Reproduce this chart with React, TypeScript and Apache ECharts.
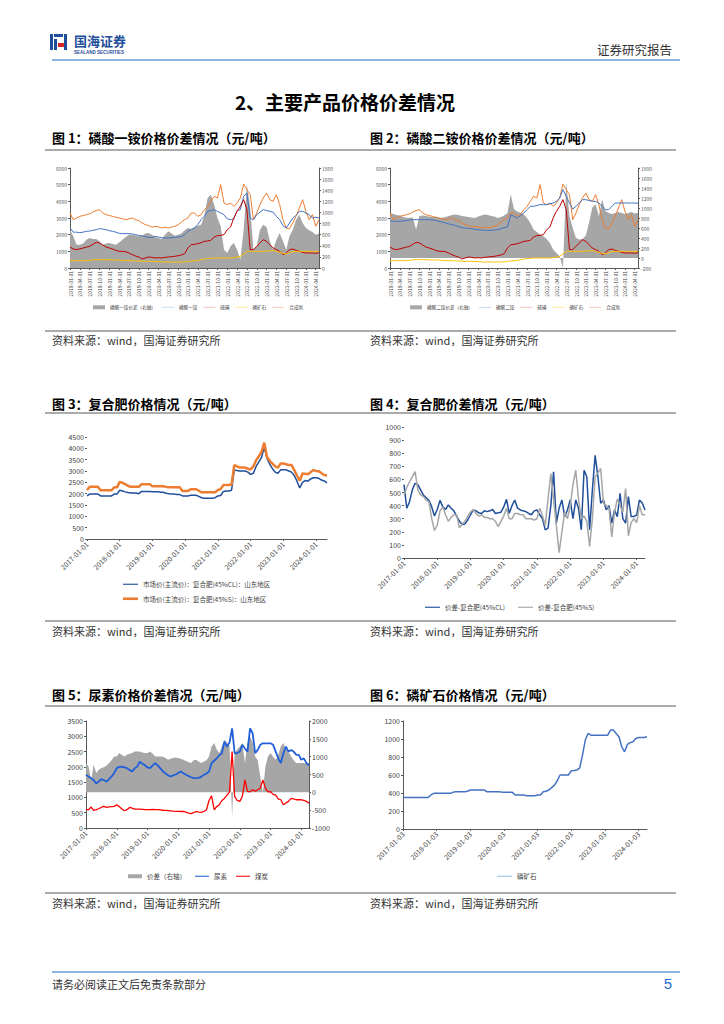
import React, { useEffect, useRef } from "react";
import * as echarts from "echarts";

const FONT = '"Noto Sans CJK SC","Noto Sans",sans-serif';
const AX = "#595959";

function monthList(y0: number, m0: number, n: number): string[] {
  const out: string[] = [];
  let y = y0;
  let m = m0;
  for (let i = 0; i < n; i++) {
    out.push(`${y}-${String(m).padStart(2, "0")}`);
    m++;
    if (m > 12) { m = 1; y++; }
  }
  return out;
}

// ---------- categories ----------
const months2018 = monthList(2018, 1, 77); // charts 1,2
const months2017a = monthList(2017, 1, 89); // chart 3
const months2017b = monthList(2017, 1, 88); // charts 4,5,6

// ---------- chart 1: 磷酸一铵 ----------
const mapSpread = [
  690, 570, 420, 420, 440, 510, 540, 520, 520, 480, 420, 440,
  450, 430, 420, 460, 510, 560, 600, 600, 590, 570, 580, 620,
  630, 600, 560, 540, 520, 600, 660, 620, 580, 600, 620, 680,
  720, 700, 740, 760, 780, 930, 1260, 1320, 1140, 900, 750, 330,
  270, 390, 450, 330, 150, 690, 1500, 1080, 330, 400, 690, 780,
  740, 480, 330, 510, 630, 480, 330, 570, 690, 870, 960, 810,
  720, 680, 650, 600, 620,
];
const mapPrice = [
  2400, 2150, 2150, 2120, 2150, 2200, 2220, 2260, 2300, 2360, 2340, 2300,
  2240, 2200, 2150, 2080, 2060, 2060, 2060, 2050, 2000, 1960, 1920, 1880,
  1840, 1830, 1900, 1860, 1820, 1800, 1800, 1820, 1840, 1860, 1880, 2000,
  2200, 2300, 2400, 2600, 2900, 3100, 3400, 3450, 3500, 3400, 3300, 3200,
  2950, 2900, 2950, 3450, 3500, 4300, 4500, 3000, 2900, 3200, 3350, 3500,
  3450, 3400, 3350, 3100, 2900, 2540, 2400, 2700, 3000, 3150, 3400, 3400,
  3300, 3200, 3000, 3050, 3000,
];
const sulfurPrice = [
  1260, 1140, 1100, 1150, 1200, 1250, 1300, 1420, 1540, 1500, 1380, 1260,
  1200, 1140, 1060, 1000, 1000, 980, 900, 800, 720, 660, 540, 600,
  660, 640, 600, 620, 600, 640, 660, 680, 700, 740, 780, 860,
  1200, 1400, 1420, 1460, 1520, 1600, 1620, 1660, 1860, 1940, 1960, 2000,
  2300, 2460, 3000, 3400, 3700, 4100, 3500, 1100, 1100, 1300, 1500, 1700,
  1600, 1400, 1200, 1100, 1000, 800, 900, 1100, 1140, 1060, 1000, 940,
  900, 900, 900, 880, 920,
];
const rockPrice1 = [
  440, 440, 440, 440, 440, 450, 460, 480, 500, 500, 500, 500,
  490, 480, 480, 470, 460, 450, 440, 440, 430, 420, 410, 400,
  400, 400, 390, 380, 370, 360, 360, 360, 360, 360, 360, 370,
  400, 420, 440, 460, 500, 540, 560, 580, 600, 600, 600, 600,
  600, 600, 620, 650, 700, 840, 1000, 1000, 1000, 1000, 1000, 1000,
  1020, 1040, 1040, 1000, 940, 880, 860, 900, 980, 1000, 1000, 1000,
  1000, 1000, 1000, 1000, 1000,
];
const ammoniaPrice = [
  3300, 2900, 3000, 3100, 3150, 3200, 3250, 3350, 3450, 3500, 3300, 3200,
  3150, 3100, 3050, 3000, 2950, 2900, 2950, 3000, 2900, 2840, 2700, 2600,
  2550, 2450, 2500, 2460, 2400, 2450, 2400, 2460, 2500, 2600, 2750, 2900,
  3000, 3300, 3300, 3100, 3200, 3500, 3700, 4000, 4300, 4200, 5000, 3900,
  3800, 3900, 3700, 3900, 4200, 5040, 4700, 4400, 2900, 3300, 3800, 4200,
  4500, 4100, 4000, 4400, 3800, 2900, 2400, 2350, 2700, 3100, 3600, 4100,
  3400, 2900, 3200, 2500, 2900,
];

// ---------- chart 2: 磷酸二铵 ----------
const dapSpread = [
  907, 880, 860, 850, 820, 806, 806, 806, 570, 840, 850, 840,
  830, 820, 820, 806, 806, 820, 840, 860, 870, 860, 840, 830,
  820, 810, 800, 830, 850, 870, 860, 840, 830, 800, 820, 850,
  900, 1276, 975, 930, 907, 870, 800, 700, 570, 520, 470, 437,
  380, 300, 169, 100, 35, -200, 1511, 840, 600, 400, 370, 380,
  450, 706, 1008, 1075, 840, 1175, 940, 900, 880, 900, 920, 900,
  880, 900, 920, 890, 900,
];
const dapPrice = [
  2840, 2800, 2800, 2800, 2820, 2850, 2880, 2900, 2900, 2900, 2900, 2900,
  2900, 2880, 2850, 2800, 2750, 2700, 2650, 2600, 2550, 2480, 2420, 2400,
  2380, 2360, 2320, 2300, 2280, 2260, 2260, 2260, 2280, 2300, 2350, 2420,
  2460, 3200, 3100, 3000, 3150, 3300, 3500, 3700, 3700, 3750, 3800, 3800,
  3800, 3850, 3900, 4000, 4200, 4700, 4300, 3900, 3540, 3700, 3900, 4100,
  4100, 4050, 4000, 4000, 3900, 3700, 3500, 3500, 3700, 3900, 3900, 3900,
  3900, 3900, 3900, 3900, 3880,
];

// ---------- chart 3: 复合肥价格 ----------
const npkCl = [
  1900, 1980, 1980, 1980, 1980, 1900, 1900, 1900, 1900, 1900, 1980, 1980,
  2150, 2120, 2080, 2050, 2030, 2030, 2030, 2000, 2100, 2100, 2100, 2100,
  2080, 2080, 2080, 2060, 2060, 2020, 2000, 1980, 1980, 1960, 1960, 1900,
  1900, 1900, 1930, 1930, 1930, 1880, 1820, 1800, 1800, 1800, 1800, 1820,
  1900, 1920, 2100, 2120, 2120, 2150, 3050, 3020, 3000, 3000, 3000, 2950,
  2850, 2900, 3200, 3400, 3600, 4050, 3550, 3300, 3100, 2950, 2900, 3050,
  3050, 3050, 3000, 2950, 2800, 2550, 2250, 2500, 2580, 2550, 2650, 2700,
  2700, 2680, 2600, 2560, 2480,
];
const npkS = [
  2160, 2300, 2300, 2300, 2300, 2150, 2150, 2150, 2150, 2150, 2280, 2280,
  2520, 2480, 2420, 2350, 2300, 2300, 2300, 2300, 2420, 2420, 2420, 2420,
  2330, 2330, 2330, 2330, 2330, 2300, 2280, 2280, 2280, 2280, 2280, 2120,
  2120, 2120, 2190, 2190, 2190, 2130, 2060, 2060, 2060, 2060, 2060, 2060,
  2160, 2200, 2380, 2380, 2380, 2400, 3260, 3200, 3150, 3150, 3150, 3100,
  3070, 3200, 3470, 3650, 3840, 4250, 3620, 3450, 3330, 3200, 3150, 3330,
  3330, 3300, 3260, 3260, 3040, 2800, 2570, 2890, 2880, 2860, 2950, 3040,
  3000, 2990, 2900, 2820, 2800,
];

// ---------- chart 4: 复合肥价差 ----------
const spreadCl = [
  560, 380, 430, 520, 570, 560, 520, 480, 460, 440, 390, 320,
  370, 440, 390, 370, 405, 380, 360, 320, 280, 255, 260, 290,
  330, 367, 360, 345, 340, 360, 354, 360, 370, 340, 345, 350,
  390, 448, 341, 400, 443, 380, 367, 360, 354, 340, 330, 360,
  367, 330, 300, 215, 228, 400, 658, 266, 380, 443, 316, 367,
  443, 300, 443, 380, 215, 670, 620, 215, 519, 784, 620, 418,
  443, 367, 400, 266, 367, 316, 493, 300, 266, 468, 316, 316,
  330, 443, 420, 367,
];
const spreadS = [
  480, 540, 580, 620, 660, 520, 480, 470, 440, 430, 300, 210,
  250, 360, 390, 330, 280, 310, 330, 330, 230, 260, 280, 320,
  350, 370, 340, 320, 330, 310, 310, 300, 300, 280, 240, 280,
  320, 380, 300, 300, 340, 340, 330, 330, 300, 300, 300, 290,
  300, 380, 320, 250, 450, 645, 450, 250, 40, 200, 350, 300,
  400, 560, 670, 450, 300, 320, 280, 88, 300, 620, 650, 683,
  420, 400, 380, 160, 350, 450, 400, 350, 530, 170, 270, 300,
  270, 400, 330, 330,
];

// ---------- chart 5: 尿素 ----------
const ureaSpread = [
  820, 727, 354, 774, 540, 634, 680, 700, 750, 820, 900, 1006,
  1006, 1100, 1050, 1006, 1053, 1080, 1100, 1146, 1146, 1146, 1120, 1100,
  1100, 1146, 1080, 1006, 1006, 1006, 1000, 960, 913, 940, 960, 980,
  960, 940, 913, 880, 850, 820, 900, 913, 860, 820, 867, 900,
  1006, 1286, 1380, 1200, 1100, 1286, 1472, 1400, 1300, -671, 1100, 1200,
  1286, 1380, 820, 1380, 1566, 1400, 1006, 900, 447, 0, 727, 1006,
  1100, 1000, 913, 1050, 1286, 1380, 1200, 1146, 1006, 900, 820, 820,
  820, 820, 800, 820,
];
const ureaPrice = [
  1740, 1680, 1630, 1560, 1460, 1520, 1600, 1560, 1520, 1600, 1685, 1800,
  1957, 2000, 2010, 1980, 1957, 1900, 1850, 1950, 2010, 2170, 2100, 2050,
  1980, 1957, 2050, 2120, 2050, 1950, 1850, 1790, 1720, 1685, 1720, 1750,
  1800, 1850, 1790, 1740, 1700, 1660, 1630, 1630, 1640, 1680, 1740, 1780,
  1850, 2120, 2200, 2280, 2380, 2445, 2826, 2660, 2800, 3260, 2445, 2450,
  2500, 2720, 2600, 2500, 3260, 3100, 2445, 2555, 2720, 2770, 2770, 2770,
  2770, 2720, 2500, 2280, 2120, 2445, 2660, 2500, 2550, 2500, 2400, 2390,
  2230, 2280, 2120, 2050,
];
const coalPrice = [
  598, 598, 685, 576, 600, 630, 680, 706, 674, 690, 700, 706,
  761, 700, 620, 565, 600, 674, 650, 620, 620, 620, 610, 600,
  598, 598, 610, 598, 598, 590, 580, 576, 570, 560, 550, 543,
  543, 540, 543, 520, 490, 467, 500, 543, 520, 511, 540, 598,
  900, 1054, 598, 700, 761, 900, 967, 1076, 1185, 2500, 1032, 900,
  870, 1032, 1576, 1200, 1185, 1250, 1200, 1250, 1300, 1576, 1304, 1185,
  1185, 1100, 1076, 950, 924, 761, 820, 870, 967, 950, 924, 924,
  924, 900, 870, 815,
];

// ---------- chart 6: 磷矿石 ----------
const rockPrice6 = [
  350, 350, 350, 350, 350, 350, 350, 350, 350, 350, 380, 396,
  396, 396, 396, 396, 396, 396, 410, 414, 414, 414, 414, 420,
  433, 433, 433, 433, 433, 433, 414, 414, 414, 414, 414, 410,
  407, 407, 407, 407, 377, 377, 377, 377, 370, 370, 370, 370,
  377, 377, 414, 420, 433, 460, 488, 536, 600, 600, 600, 600,
  648, 650, 655, 680, 821, 988, 1062, 1043, 1043, 1043, 1043, 1043,
  1043, 1043, 1099, 1099, 1062, 1025, 914, 858, 940, 960, 969, 1006,
  1017, 1017, 1017, 1025,
];

// ---------- texts ----------
const figTitles = [
  "图 1：磷酸一铵价格价差情况（元/吨）",
  "图 2：磷酸二铵价格价差情况（元/吨）",
  "图 3：复合肥价格情况（元/吨）",
  "图 4：复合肥价差情况（元/吨）",
  "图 5：尿素价格价差情况（元/吨）",
  "图 6：磷矿石价格情况（元/吨）",
];
const sourceText = "资料来源：wind，国海证券研究所";

const LINE_ICON = "path://M0,0L40,0L40,3L0,3Z";
const THICK_ICON = "path://M0,0L40,0L40,7L0,7Z";

function xCat(gridIndex: number, data: string[], interval: number, suffix: string, rotate: number, fontSize: number, margin: number) {
  return {
    type: "category",
    gridIndex,
    data,
    boundaryGap: false,
    axisLine: { show: true, onZero: false, lineStyle: { color: AX, width: 1 } },
    axisTick: { show: true, interval, length: 2, lineStyle: { color: AX } },
    axisLabel: {
      interval,
      rotate,
      fontSize,
      margin,
      color: "#404040",
      fontFamily: FONT,
      formatter: (v: string) => v + suffix,
    },
    splitLine: { show: false },
  };
}

function yVal(gridIndex: number, min: number, max: number, interval: number, position: string, fontSize: number, showLine: boolean, color = "#404040") {
  return {
    type: "value",
    gridIndex,
    min,
    max,
    interval,
    position,
    axisLine: { show: showLine, lineStyle: { color: AX, width: 1 } },
    axisTick: { show: true, length: 2, lineStyle: { color: AX } },
    axisLabel: { fontSize, color, fontFamily: FONT, margin: 3, formatter: (v: number) => String(v) },
    splitLine: { show: false },
  };
}

function lineS(name: string, x: number, y: number, data: number[], color: string, width: number) {
  return {
    type: "line",
    name,
    xAxisIndex: x,
    yAxisIndex: y,
    data,
    symbol: "none",
    showSymbol: false,
    lineStyle: { color, width },
    itemStyle: { color },
    emphasis: { disabled: true },
  };
}

function areaS(name: string, x: number, y: number, data: number[], color: string) {
  return {
    type: "line",
    name,
    xAxisIndex: x,
    yAxisIndex: y,
    data,
    symbol: "none",
    showSymbol: false,
    lineStyle: { width: 0, color },
    itemStyle: { color },
    areaStyle: { color, opacity: 1, origin: "auto" },
    emphasis: { disabled: true },
  };
}

function lg(left: number, top: number, items: any[], fontSize: number, itemGap: number, itemWidth: number, orient = "horizontal") {
  return {
    left,
    top,
    orient,
    itemGap,
    itemWidth,
    itemHeight: 4,
    symbolKeepAspect: true,
    selectedMode: false,
    padding: 0,
    textStyle: { fontSize, color: "#404040", fontFamily: FONT, lineHeight: fontSize + 2 },
    data: items,
  };
}

function lineItem(name: string, color: string, thick = false) {
  return { name, icon: thick ? THICK_ICON : LINE_ICON, itemStyle: { color } };
}
function rectItem(name: string, color: string) {
  return { name, icon: "rect", itemStyle: { color } };
}

function txt(text: string, x: number, y: number, font: string, fill: string, align = "left") {
  return {
    type: "text",
    x,
    y,
    silent: true,
    style: {
      text,
      font,
      fill,
      align,
      textAlign: align,
      verticalAlign: "middle",
      textVerticalAlign: "middle",
    },
  };
}
function hline(x1: number, x2: number, y: number, stroke: string, lineWidth: number) {
  return { type: "line", silent: true, shape: { x1, y1: y, x2, y2: y }, style: { stroke, lineWidth } };
}
function box(x: number, y: number, width: number, height: number, fill: string) {
  return { type: "rect", silent: true, shape: { x, y, width, height }, style: { fill } };
}

function buildOption() {
  const g = (left: number, top: number, width: number, height: number) => ({
    left, top, width, height, containLabel: false, outerBoundsMode: "none",
  });
  const CJK = (w: string, s: number) => `${w} ${s}px ${FONT}`;

  const graphics: any[] = [
    // logo
    box(50, 34, 3, 16, "#1F4E9A"),
    box(54, 34, 9, 3, "#1F4E9A"),
    box(54, 39, 3, 11, "#1F4E9A"),
    box(58, 43, 6, 4, "#D7262B"),
    box(64, 34, 3, 16, "#1F4E9A"),
    txt("国海证券", 74, 40, CJK("bold", 13), "#1F4E9A"),
    txt("SEALAND SECURITIES", 74, 52, `bold 4.5px "Liberation Sans", sans-serif`, "#1F4E9A"),
    txt("证券研究报告", 672, 49, CJK("normal", 12.5), "#333333", "right"),
    hline(52, 680, 60, "#8DB3E2", 2),
    txt("2、主要产品价格价差情况", 345, 101, CJK("bold", 19), "#000000", "center"),
    // figure titles
    txt(figTitles[0], 52, 137, CJK("bold", 13), "#000000"),
    txt(figTitles[1], 370, 137, CJK("bold", 13), "#000000"),
    txt(figTitles[2], 52, 403, CJK("bold", 13), "#000000"),
    txt(figTitles[3], 370, 403, CJK("bold", 13), "#000000"),
    txt(figTitles[4], 52, 694, CJK("bold", 13), "#000000"),
    txt(figTitles[5], 370, 694, CJK("bold", 13), "#000000"),
    hline(45, 676, 150, "#595959", 1.2),
    hline(45, 676, 413, "#595959", 1.2),
    hline(45, 676, 706, "#595959", 1.2),
    // sources
    hline(45, 676, 331, "#595959", 1.2),
    hline(45, 676, 621, "#595959", 1.2),
    hline(45, 676, 893, "#595959", 1.2),
    txt(sourceText, 52, 340, CJK("normal", 11), "#333333"),
    txt(sourceText, 370, 340, CJK("normal", 11), "#333333"),
    txt(sourceText, 52, 631, CJK("normal", 11), "#333333"),
    txt(sourceText, 370, 631, CJK("normal", 11), "#333333"),
    txt(sourceText, 52, 903, CJK("normal", 11), "#333333"),
    txt(sourceText, 370, 903, CJK("normal", 11), "#333333"),
    // footer
    hline(52, 680, 972, "#8DB3E2", 2),
    txt("请务必阅读正文后免责条款部分", 52, 984, CJK("normal", 11), "#333333"),
    txt("5", 672, 983, `15px "Liberation Sans", Arial, sans-serif`, "#1F6FD0", "right"),
  ];

  return {
    animation: false,
    backgroundColor: "#ffffff",
    grid: [
      g(70, 168, 249, 100),
      g(390, 168, 248, 100),
      g(87, 437, 240, 102),
      g(404, 427, 241, 131),
      g(86, 721, 223, 107),
      g(403, 721, 244, 108),
    ],
    xAxis: [
      xCat(0, months2018, 2, "-01", 90, 5, 3),
      xCat(1, months2018, 2, "-01", 90, 5, 3),
      xCat(2, months2017a, 11, "-01", 45, 7, 4),
      xCat(3, months2017b, 11, "-01", 45, 7, 4),
      xCat(4, months2017b, 11, "-01", 45, 7, 4),
      xCat(5, months2017b, 11, "-03", 45, 7, 4),
    ],
    yAxis: [
      yVal(0, 0, 6000, 1000, "left", 5, true, "#595959"),
      yVal(0, 0, 1800, 200, "right", 5, true, "#595959"),
      yVal(1, 0, 6000, 1000, "left", 5, true, "#595959"),
      yVal(1, -200, 1800, 200, "right", 5, true, "#595959"),
      yVal(2, 0, 4500, 500, "left", 7, false),
      yVal(3, 0, 1000, 100, "left", 7, false),
      yVal(4, 0, 3500, 500, "left", 7, true),
      yVal(4, -1000, 2000, 500, "right", 7, true),
      yVal(5, 0, 1200, 200, "left", 7, true),
    ],
    legend: [
      lg(93, 304, [
        rectItem("磷酸一铵价差（右轴）", "#A6A6A6"),
        lineItem("磷酸一铵", "#BDD7EE"),
        lineItem("硫磺", "#F4B8B8"),
        lineItem("磷矿石", "#FFE38A"),
        lineItem("合成氨", "#F8CBAD"),
      ], 4.6, 6, 12),
      lg(410, 304, [
        rectItem("磷酸二铵价差（右轴）", "#A6A6A6"),
        lineItem("磷酸二铵", "#BDD7EE"),
        lineItem("硫磺", "#F4B8B8"),
        lineItem("磷矿石", "#FFE38A"),
        lineItem("合成氨", "#F8CBAD"),
      ], 4.6, 6, 12),
      lg(123, 580, [
        lineItem("市场价(主流价)：复合肥(45%CL)：山东地区", "#1F4E9A"),
        lineItem("市场价(主流价)：复合肥(45%S)：山东地区", "#ED7D31", true),
      ], 6.5, 6, 15, "vertical"),
      lg(425, 603, [
        lineItem("价差-复合肥(45%CL)", "#1F4E9A"),
        lineItem("价差-复合肥(45%S)", "#A6A6A6"),
      ], 6.5, 13, 15),
      lg(128, 872, [
        rectItem("价差（右轴）", "#A6A6A6"),
        lineItem("尿素", "#1F5FD9"),
        lineItem("煤炭", "#FF0000"),
      ], 6.5, 9, 14),
      lg(497, 872, [lineItem("磷矿石", "#9DC3E6")], 6.5, 9, 15),
    ],
    series: [
      // chart 1
      areaS("磷酸一铵价差（右轴）", 0, 1, mapSpread, "#A6A6A6"),
      lineS("合成氨", 0, 0, ammoniaPrice, "#ED7D31", 1),
      lineS("磷酸一铵", 0, 0, mapPrice, "#4472C4", 1),
      lineS("硫磺", 0, 0, sulfurPrice, "#C00000", 1),
      lineS("磷矿石", 0, 0, rockPrice1, "#FFC000", 1),
      // chart 2
      areaS("磷酸二铵价差（右轴）", 1, 3, dapSpread, "#A6A6A6"),
      lineS("合成氨", 1, 2, ammoniaPrice, "#ED7D31", 1),
      lineS("磷酸二铵", 1, 2, dapPrice, "#4472C4", 1),
      lineS("硫磺", 1, 2, sulfurPrice, "#C00000", 1),
      lineS("磷矿石", 1, 2, rockPrice1, "#FFC000", 1),
      // chart 3
      lineS("市场价(主流价)：复合肥(45%CL)：山东地区", 2, 4, npkCl, "#1F4E9A", 1.5),
      lineS("市场价(主流价)：复合肥(45%S)：山东地区", 2, 4, npkS, "#ED7D31", 2.5),
      // chart 4
      lineS("价差-复合肥(45%CL)", 3, 5, spreadCl, "#1F4E9A", 1.5),
      lineS("价差-复合肥(45%S)", 3, 5, spreadS, "#A6A6A6", 1.5),
      // chart 5
      areaS("价差（右轴）", 4, 7, ureaSpread, "#A6A6A6"),
      lineS("尿素", 4, 6, ureaPrice, "#1F5FD9", 1.8),
      lineS("煤炭", 4, 6, coalPrice, "#FF0000", 1.3),
      // chart 6
      lineS("磷矿石", 5, 8, rockPrice6, "#4472C4", 1.5),
    ],
    graphic: graphics,
  };
}

export default function App() {
  const ref = useRef<HTMLDivElement>(null);
  useEffect(() => {
    if (!ref.current) return;
    const chart = echarts.init(ref.current, null, { renderer: "svg" });
    chart.setOption(buildOption() as any);
    return () => chart.dispose();
  }, []);
  return (
    <div
      ref={ref}
      style={{ position: "absolute", left: 0, top: 0, width: 724, height: 1024, background: "#fff" }}
    />
  );
}
